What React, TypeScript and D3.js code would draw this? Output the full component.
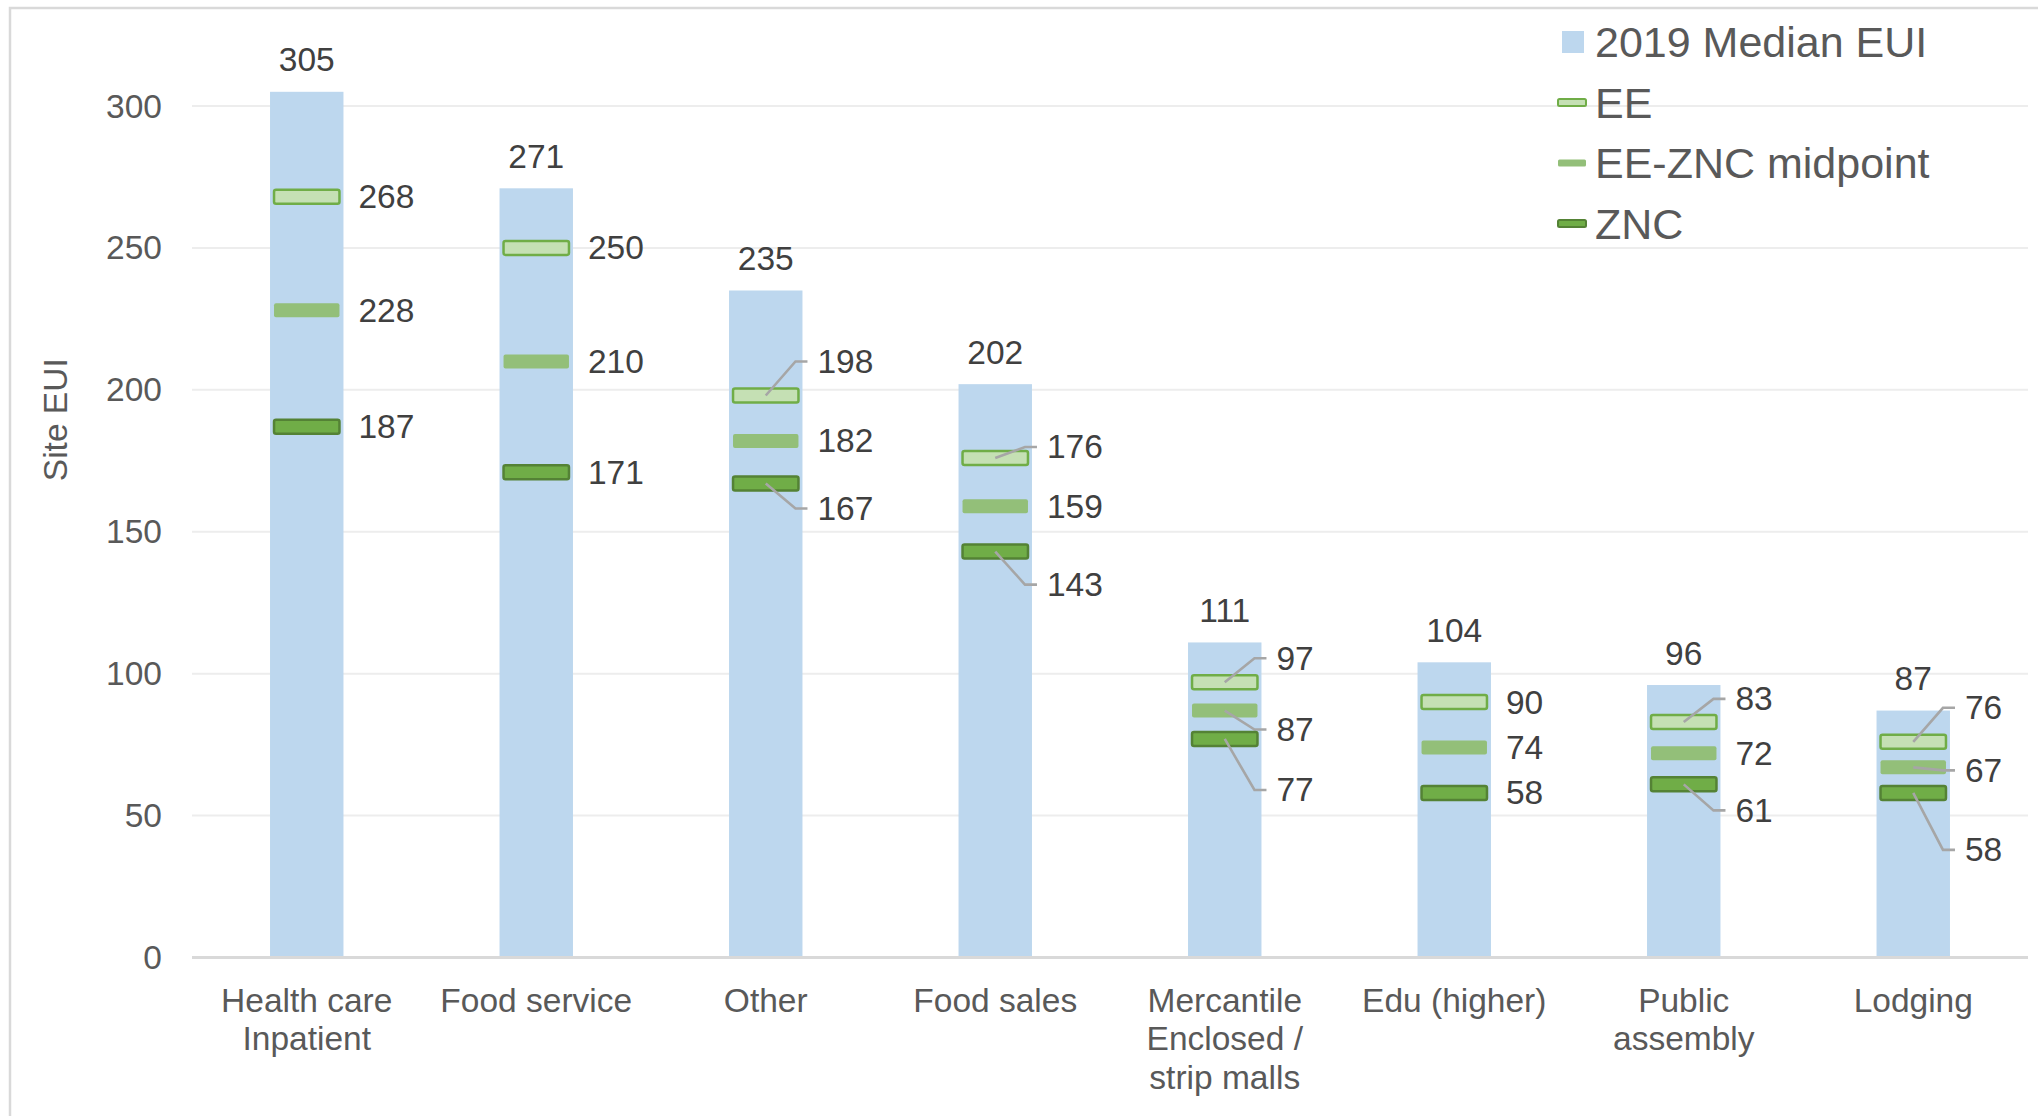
import React from "react";
import * as d3 from "d3";

const categories: string[][] = [
  ["Health care", "Inpatient"],
  ["Food service"],
  ["Other"],
  ["Food sales"],
  ["Mercantile", "Enclosed /", "strip malls"],
  ["Edu (higher)"],
  ["Public", "assembly"],
  ["Lodging"],
];
const median2019: number[] = [305, 271, 235, 202, 111, 104, 96, 87];
const eeValues: number[] = [268, 250, 198, 176, 97, 90, 83, 76];
const midValues: number[] = [228, 210, 182, 159, 87, 74, 72, 67];
const zncValues: number[] = [187, 171, 167, 143, 77, 58, 61, 58];
const yTicks: number[] = [0, 50, 100, 150, 200, 250, 300];
const legendLabels: string[] = ["2019 Median EUI", "EE", "EE-ZNC midpoint", "ZNC"];

// layout: label nudges (px) for [EE, mid, ZNC] per category
const labelNudge: number[][] = [
  [0, 0, 0],
  [0, 0, 0],
  [-34, 0, 25],
  [-11, 0, 33],
  [-24, 19, 51],
  [0, 0, 0],
  [-23, 0, 26],
  [-34, 3, 57],
];

const W = 2038;
const H = 1116;
const FONT = "'Liberation Sans', Arial, sans-serif";

const markerStyles = [
  { fill: "#c5e0b4", stroke: "#70ad47", sw: 2.5 },
  { fill: "#93bf79", stroke: "none", sw: 0 },
  { fill: "#70ad47", stroke: "#548235", sw: 2.5 },
];

export default function App() {
  const x = d3
    .scaleBand<number>()
    .domain(d3.range(categories.length))
    .range([192, 2028])
    .paddingInner(0.68)
    .paddingOuter(0.34);
  const y = d3.scaleLinear().domain([0, 300]).range([957.5, 106]);
  const bw = x.bandwidth();
  const mw = bw - 8;
  const mh = 14;
  const series = [eeValues, midValues, zncValues];

  return (
    <div style={{ position: "absolute", left: 0, top: 0 }}>
      <svg width={W} height={H} style={{ display: "block", background: "#fff" }} fontFamily={FONT}>
        <rect x={10} y={8} width={W + 20} height={H + 20} fill="#fff" stroke="#d9d9d9" strokeWidth={2.5} />
        {yTicks.map((t) => (
          <g key={t}>
            {t > 0 && <line x1={192} x2={2028} y1={y(t)} y2={y(t)} stroke="#ededed" strokeWidth={2} />}
            <text x={162} y={y(t)} textAnchor="end" dominantBaseline="central" fontSize={33.5} fill="#595959">
              {t}
            </text>
          </g>
        ))}
        <text
          transform={`translate(55,${(106 + 957.5) / 2 - 112}) rotate(-90)`}
          textAnchor="middle"
          dominantBaseline="central"
          fontSize={33.5}
          fill="#595959"
        >
          Site EUI
        </text>
        {median2019.map((v, i) => {
          const x0 = x(i)!;
          return (
            <g key={i}>
              <rect x={x0} y={y(v)} width={bw} height={y(0) - y(v)} fill="#bdd7ee" />
              <text x={x0 + bw / 2} y={y(v) - 32} textAnchor="middle" dominantBaseline="central" fontSize={33.5} fill="#404040">
                {v}
              </text>
            </g>
          );
        })}
        <line x1={192} x2={2028} y1={y(0)} y2={y(0)} stroke="#d9d9d9" strokeWidth={3} />
        {series.map((vals, s) =>
          vals.map((v, i) => {
            const x0 = x(i)!;
            const cx = x0 + bw / 2;
            const right = x0 + bw;
            const my = y(v);
            const nudge = labelNudge[i][s];
            const ly = my + nudge;
            const st = markerStyles[s];
            return (
              <g key={`${s}-${i}`}>
                <rect
                  x={cx - mw / 2}
                  y={my - mh / 2}
                  width={mw}
                  height={mh}
                  rx={2}
                  fill={st.fill}
                  stroke={st.stroke}
                  strokeWidth={st.sw}
                />
                {nudge !== 0 && (
                  <polyline
                    points={`${cx},${my} ${right - 7},${ly} ${right + 5},${ly}`}
                    fill="none"
                    stroke="#a6a6a6"
                    strokeWidth={2.6}
                  />
                )}
                <text x={right + 15} y={ly} dominantBaseline="central" fontSize={33.5} fill="#404040">
                  {v}
                </text>
              </g>
            );
          })
        )}
        {categories.map((lines, i) => (
          <text key={i} textAnchor="middle" fontSize={33.5} fill="#595959">
            {lines.map((l, k) => (
              <tspan key={k} x={x(i)! + bw / 2} y={1000 + k * 38.5} dominantBaseline="central">
                {l}
              </tspan>
            ))}
          </text>
        ))}
        {legendLabels.map((l, k) => {
          const cy = 42 + k * 60.5;
          return (
            <g key={l}>
              {k === 0 ? (
                <rect x={1562} y={cy - 11} width={22} height={22} fill="#bdd7ee" />
              ) : (
                <rect
                  x={1558}
                  y={cy - 3.5}
                  width={28}
                  height={7}
                  rx={1.5}
                  fill={markerStyles[k - 1].fill}
                  stroke={markerStyles[k - 1].stroke}
                  strokeWidth={markerStyles[k - 1].sw ? 2 : 0}
                />
              )}
              <text x={1595} y={cy} dominantBaseline="central" fontSize={43} fill="#595959">
                {l}
              </text>
            </g>
          );
        })}
      </svg>
    </div>
  );
}
